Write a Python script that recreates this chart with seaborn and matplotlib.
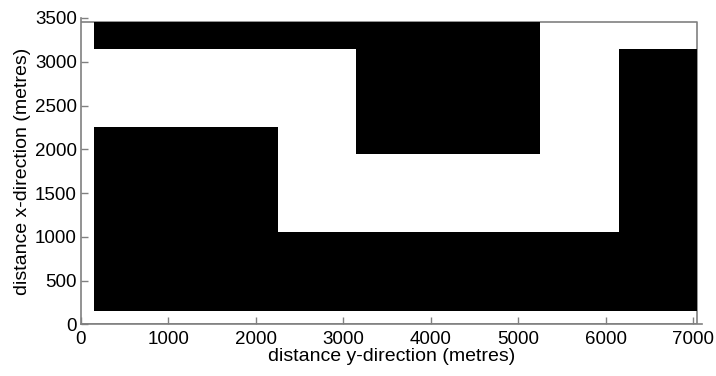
import matplotlib
matplotlib.use("Agg")
import matplotlib.pyplot as plt
import seaborn as sns

# Obstacle blocks of the map, in metres (y-direction along the horizontal axis)
block_y0 = [150, 3150, 150, 2250, 6150]
block_y1 = [5250, 5250, 2250, 6150, 7050]
block_x0 = [3150, 1950, 150, 150, 150]
block_x1 = [3450, 3450, 2250, 1050, 3150]

# Outer boundary of the area
area_y = [0, 7050, 7050, 0]
area_x = [3450, 3450, 0, 0]

x_ticks = [0, 1000, 2000, 3000, 4000, 5000, 6000, 7000]
y_ticks = [0, 500, 1000, 1500, 2000, 2500, 3000, 3500]

sns.set_theme(style="ticks")
plt.rcParams["font.family"] = ["Liberation Sans", "DejaVu Sans"]

W, H = 716, 376
fig = plt.figure(figsize=(W / 100, H / 100), dpi=100)
ax = fig.add_axes([81 / W, 1 - 324.3 / H, (701.7 - 81) / W, (324.3 - 18) / H])

grey = "#808080"
ax.plot(area_y, area_x, color=grey, lw=1.2, zorder=1)

widths = [b - a for a, b in zip(block_y0, block_y1)]
heights = [b - a for a, b in zip(block_x0, block_x1)]
ax.bar(block_y0, heights, width=widths, bottom=block_x0, align="edge",
       color="black", edgecolor="black", linewidth=0, zorder=2)

ax.set_xlim(0, 7100)
ax.set_ylim(0, 3500)
ax.set_xticks(x_ticks)
ax.set_yticks(y_ticks)
ax.tick_params(direction="in", length=5, width=1, color=grey,
               labelsize=13.5, labelcolor="black")
ax.tick_params(axis="x", pad=5)
ax.tick_params(axis="y", pad=3)
for side in ("top", "right"):
    ax.spines[side].set_visible(False)
for side in ("left", "bottom"):
    ax.spines[side].set_color(grey)
    ax.spines[side].set_linewidth(1.2)

ax.set_xlabel("distance y-direction (metres)", fontsize=14, color="black", labelpad=0)
ax.set_ylabel("distance x-direction (metres)", fontsize=14, color="black", labelpad=3)

fig.savefig("out.png", dpi=100)
